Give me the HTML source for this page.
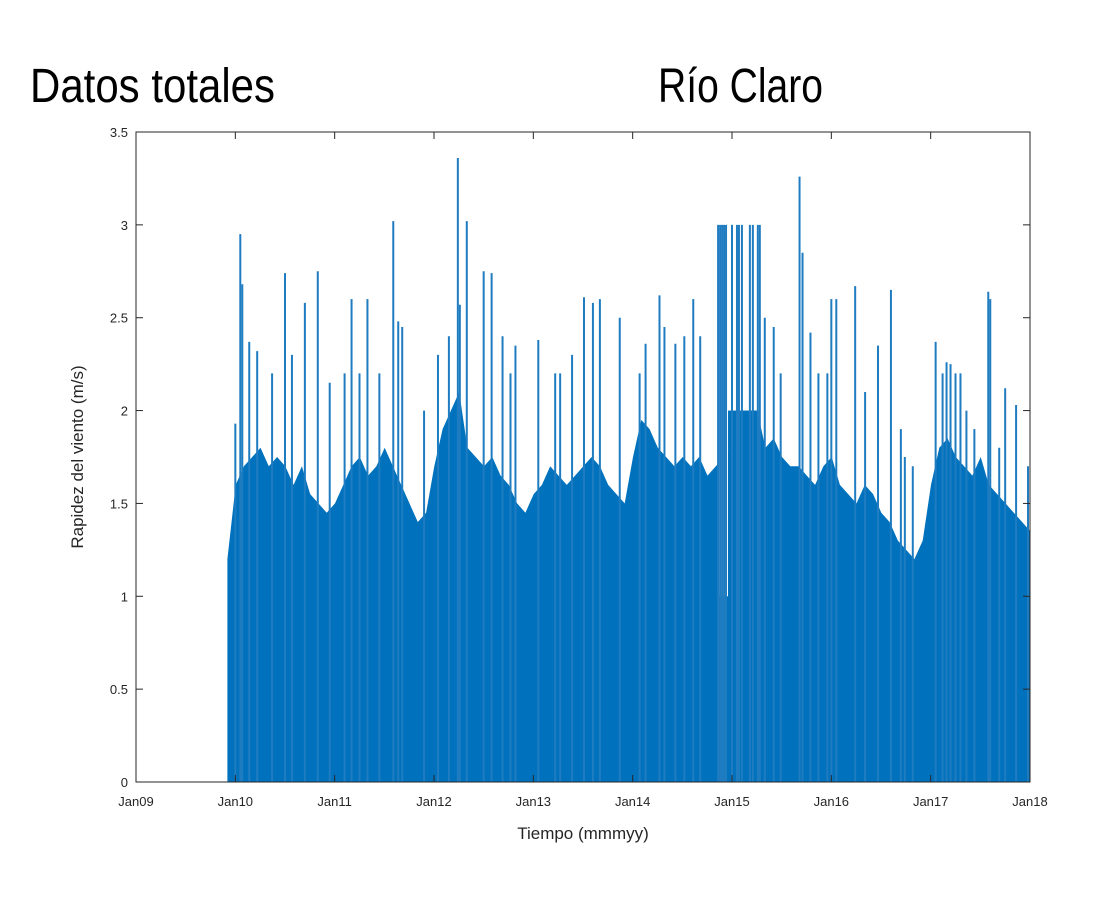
<!DOCTYPE html>
<html><head><meta charset="utf-8"><style>
body{margin:0;background:#fff;}
svg{display:block;font-family:"Liberation Sans",sans-serif;}
</style></head><body>
<svg id="chart" width="1096" height="897">
<text x="30" y="102" font-size="48" textLength="245" lengthAdjust="spacingAndGlyphs" fill="#000">Datos totales</text>
<text x="658" y="102" font-size="48" textLength="165" lengthAdjust="spacingAndGlyphs" fill="#000">Río Claro</text>
<g id="plot"></g>
<rect x="136" y="132" width="894" height="650" fill="none" stroke="#262626" stroke-width="1"/>
<g id="axes"></g>
<text x="583" y="839" font-size="17" text-anchor="middle" fill="#262626">Tiempo (mmmyy)</text>
<text transform="translate(83,457) rotate(-90)" font-size="17" text-anchor="middle" fill="#262626">Rapidez del viento (m/s)</text>
</svg>
<script>
const xTickLabels=["Jan09","Jan10","Jan11","Jan12","Jan13","Jan14","Jan15","Jan16","Jan17","Jan18"];
const yTicks=[0,0.5,1,1.5,2,2.5,3,3.5];
const yTickLabels=["0","0.5","1","1.5","2","2.5","3","3.5"];
const envStart=2009.92;
const envelope=[1.2,
1.6,1.7,1.75,1.8,1.7,1.75,1.7,1.6,1.7,1.55,1.5,1.45,
1.5,1.6,1.7,1.75,1.65,1.7,1.8,1.7,1.6,1.5,1.4,1.45,
1.7,1.9,2.0,2.1,1.8,1.75,1.7,1.75,1.65,1.6,1.5,1.45,
1.55,1.6,1.7,1.65,1.6,1.65,1.7,1.75,1.7,1.6,1.55,1.5,
1.75,1.95,1.9,1.8,1.75,1.7,1.75,1.7,1.75,1.65,1.7,1.75,
1.8,2.0,2.0,2.0,1.8,1.85,1.75,1.7,1.7,1.65,1.6,1.7,
1.75,1.6,1.55,1.5,1.6,1.55,1.45,1.4,1.3,1.25,1.2,1.3,
1.6,1.8,1.85,1.75,1.7,1.65,1.75,1.6,1.55,1.5,1.45,1.4,
1.35];
const lowBlockStart=[2014.86];
const lowBlockEnd=[2014.96];
const lowBlockValue=[1.0];
const highBlockStart=[2014.96];
const highBlockEnd=[2015.27];
const highBlockValue=[2.0];
const spikeDates=[2010.0,2010.07,2010.05,2010.14,2010.22,2010.5,2010.7,2010.83,2010.37,2010.57,
2011.17,2011.33,2011.59,2011.64,2011.25,2011.1,2010.95,2011.45,2011.68,
2012.24,2012.33,2012.26,2012.5,2012.58,2012.15,2011.9,2012.04,2012.69,2012.77,
2012.82,2013.05,2013.22,2013.39,2013.51,2013.6,2013.67,2013.27,
2013.87,2014.07,2014.13,2014.27,2014.32,2014.43,2014.52,2014.61,2014.68,
2014.86,2014.88,2014.9,2014.92,2014.94,2015.0,2015.05,2015.07,2015.1,2015.18,2015.21,2015.26,2015.28,
2015.33,2015.42,2015.49,2015.68,2015.71,2015.79,2015.87,2015.96,2016.0,2016.05,2016.24,2016.34,2016.47,2016.6,2016.7,2016.74,2016.82,
2017.05,2017.12,2017.16,2017.2,2017.25,2017.3,2017.36,2017.44,2017.58,2017.6,2017.69,2017.75,2017.86,2017.98];
const spikeValues=[1.93,2.68,2.95,2.37,2.32,2.74,2.58,2.75,2.2,2.3,
2.6,2.6,3.02,2.48,2.2,2.2,2.15,2.2,2.45,
3.36,3.02,2.57,2.75,2.74,2.4,2.0,2.3,2.4,2.2,
2.35,2.38,2.2,2.3,2.61,2.58,2.6,2.2,
2.5,2.2,2.36,2.62,2.45,2.36,2.4,2.6,2.4,
3.0,3.0,3.0,3.0,3.0,3.0,3.0,3.0,3.0,3.0,3.0,3.0,3.0,
2.5,2.45,2.2,3.26,2.85,2.42,2.2,2.2,2.6,2.6,2.67,2.1,2.35,2.65,1.9,1.75,1.7,
2.37,2.2,2.26,2.25,2.2,2.2,2.0,1.9,2.64,2.6,1.8,2.12,2.03,1.7];
const X0=136,X1=1030,Y0=782,Y1=132;
const xs=t=>X0+(t-2009)/9*(X1-X0);
const ys=v=>Y0-v/3.5*(Y0-Y1);
const NS="http://www.w3.org/2000/svg";
const plot=document.getElementById('plot'),axes=document.getElementById('axes');
function mk(tag,attrs,parent){const e=document.createElementNS(NS,tag);for(const k in attrs)e.setAttribute(k,attrs[k]);parent.appendChild(e);return e;}
let pts=[];
envelope.forEach((v,i)=>{const t=envStart+i/12;pts.push(xs(t).toFixed(1)+","+ys(v).toFixed(1));});
const endT=envStart+(envelope.length-1)/12;
pts.push(xs(Math.min(endT,2018)).toFixed(1)+","+Y0);
pts.unshift(xs(envStart).toFixed(1)+","+Y0);
const area=mk('polygon',{points:pts.join(" "),fill:"#0072bd"},plot);


lowBlockStart.forEach((s,i)=>{
 const m=mk('rect',{x:xs(s),y:Y1+1,width:xs(lowBlockEnd[i])-xs(s),height:ys(lowBlockValue[i])-Y1-1,fill:"#fff"},plot);
 
 
});
highBlockStart.forEach((s,i)=>{
 const r=mk('rect',{x:xs(s),y:ys(highBlockValue[i]),width:xs(highBlockEnd[i])-xs(s),height:Y0-ys(highBlockValue[i]),fill:"#0072bd"},plot);
 
 
});
spikeDates.forEach((t,i)=>{
 const l=mk('line',{x1:xs(t),x2:xs(t),y1:Y0,y2:ys(spikeValues[i]),stroke:"#1f7cc0","stroke-width":2},plot);
 
 
});
xTickLabels.forEach((lab,i)=>{
 const x=xs(2009+i);
 mk('line',{x1:x,x2:x,y1:Y0,y2:Y0-7,stroke:"#262626"},axes);
 mk('line',{x1:x,x2:x,y1:Y1,y2:Y1+7,stroke:"#262626"},axes);
 const tx=mk('text',{x:x,y:806,"font-size":13,"text-anchor":"middle",fill:"#262626"},axes);
 tx.textContent=lab;
 
 
});
yTicks.forEach((v,i)=>{
 const y=ys(v);
 mk('line',{x1:X0,x2:X0+7,y1:y,y2:y,stroke:"#262626"},axes);
 mk('line',{x1:X1,x2:X1-7,y1:y,y2:y,stroke:"#262626"},axes);
 const tx=mk('text',{x:128,y:y+5,"font-size":13,"text-anchor":"end",fill:"#262626"},axes);
 tx.textContent=yTickLabels[i];
 
 
});
</script>
</body></html>
